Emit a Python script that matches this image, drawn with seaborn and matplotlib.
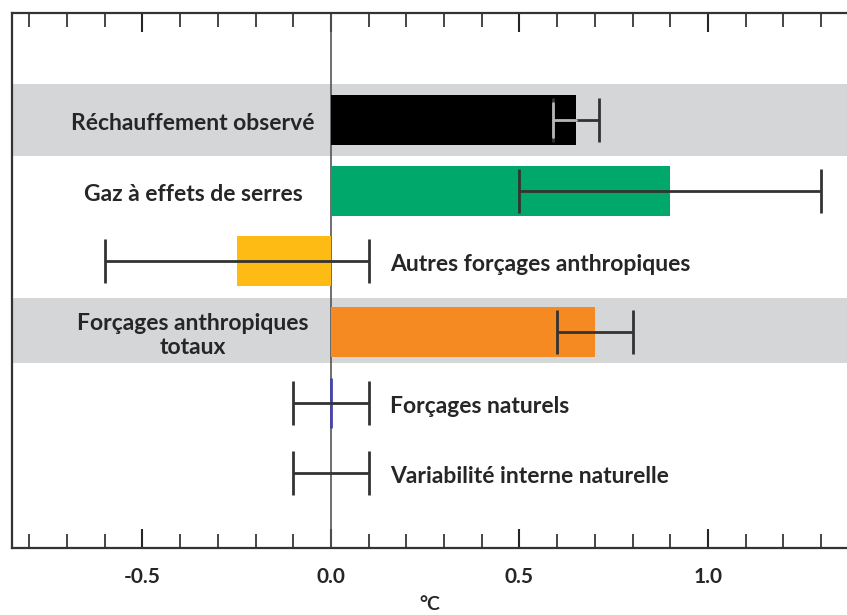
import pandas as pd
import matplotlib.pyplot as plt
import seaborn as sns
from matplotlib.ticker import MultipleLocator

# Data (°C)
labels = ['Réchauffement observé', 'Gaz à effets de serres', 'Autres forçages anthropiques',
          'Forçages anthropiques\ntotaux', 'Forçages naturels', 'Variabilité interne naturelle']
values = [0.65, 0.90, -0.25, 0.70, 0.0, 0.0]
err_low = [0.59, 0.50, -0.60, 0.60, -0.10, -0.10]
err_high = [0.71, 1.30, 0.10, 0.80, 0.10, 0.10]
colors = ['#000000', '#00a86b', '#fdbb13', '#f58a22', '#4444aa', '#ffffff']
label_side = ['left', 'left', 'right', 'left', 'right', 'right']

df = pd.DataFrame({'cat': labels, 'val': values})

sns.set_style("white")
plt.rcParams['font.family'] = ['Lato', 'DejaVu Sans']
plt.rcParams['axes.unicode_minus'] = False

fig = plt.figure(figsize=(8.47, 6.15), dpi=100)
ax = fig.add_axes([12 / 847, 67 / 615, 835 / 847, 535 / 615])

# grey bands behind rows 1 and 4
ax.axhspan(-0.52, 0.50, color='#d5d6d8', zorder=0, lw=0)
ax.axhspan(2.52, 3.44, color='#d5d6d8', zorder=0, lw=0)

sns.barplot(data=df, y='cat', x='val', hue='cat', palette=colors, legend=False,
            orient='h', width=0.71, saturation=1, linewidth=0, ax=ax, zorder=2)
bars = [c[0] for c in ax.containers]
# thin bar for natural forcings (value 0), nothing for internal variability
bars[4].set_edgecolor(colors[4])
bars[4].set_linewidth(2)
bars[5].set_visible(False)

ax.axvline(0, color='#555555', lw=1.2, zorder=1)

# error bars
for i in range(len(labels)):
    mid = (err_low[i] + err_high[i]) / 2
    half = (err_high[i] - err_low[i]) / 2
    ax.errorbar(mid, i, xerr=half, fmt='none', ecolor='#333333', elinewidth=2,
                capsize=16, capthick=2, zorder=3)
# part of the first error bar that lies inside the black bar
ax.plot([err_low[0], values[0]], [0, 0], color='#b5b5b5', lw=2, zorder=4)
ax.plot([err_low[0], err_low[0]], [-0.24, 0.24], color='#b5b5b5', lw=2, zorder=4)

# row labels
for i, lab in enumerate(labels):
    if label_side[i] == 'left':
        ax.text(-0.366, i + 0.05, lab, ha='center', va='center', fontsize=16.5,
                fontweight='bold', linespacing=1.22, zorder=5)
    else:
        ax.text(0.157, i + 0.05, lab, ha='left', va='center', fontsize=16.5,
                fontweight='bold', zorder=5)

ax.set_xlim(-0.846, 1.369)
ax.set_ylim(6.06, -1.52)
ax.set_yticks([])
ax.set_ylabel('')
ax.set_xlabel('°C', fontsize=14, fontweight='bold', labelpad=6)
ax.xaxis.set_major_locator(MultipleLocator(0.5))
ax.xaxis.set_minor_locator(MultipleLocator(0.1))
ax.tick_params(axis='x', which='major', direction='in', length=14, width=1.5,
               top=True, bottom=True, labelsize=15, pad=14)
ax.tick_params(axis='x', which='minor', direction='in', length=10, width=1.2,
               top=True, bottom=True)
for t in ax.get_xticklabels():
    t.set_fontweight('bold')

for s in ['left', 'top', 'bottom']:
    ax.spines[s].set_color('#333333')
    ax.spines[s].set_linewidth(1.6)
ax.spines['right'].set_visible(False)

fig.savefig('out.png', dpi=100)
